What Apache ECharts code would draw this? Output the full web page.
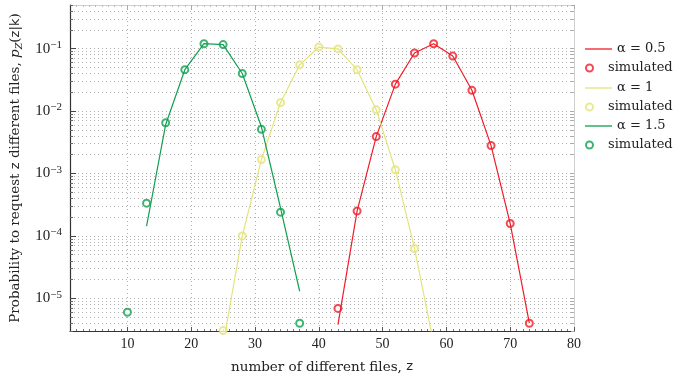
<!DOCTYPE html>
<html>
<head>
<meta charset="utf-8">
<script src="https://cdn.jsdelivr.net/npm/echarts@6/dist/echarts.min.js"></script>
<style>
  html, body { margin: 0; padding: 0; background: #fff; }
  #main { width: 682px; height: 377px; }
</style>
</head>
<body>
<div id="main"></div>
<script>
// alpha = 0.5
const zTheory05 = [43, 46, 49, 52, 55, 58, 61, 64, 67, 70, 73];
const pTheory05 = [3.8e-6, 2.5e-4, 3.9e-3, 0.027, 0.085, 0.12, 0.076, 0.0215, 2.8e-3, 1.58e-4, 4e-6];
const zSim05 = [43, 46, 49, 52, 55, 58, 61, 64, 67, 70, 73];
const pSim05 = [6.9e-6, 2.5e-4, 3.9e-3, 0.027, 0.085, 0.12, 0.076, 0.0215, 2.8e-3, 1.58e-4, 4e-6];

// alpha = 1
const zTheory1 = [25, 28, 31, 34, 37, 40, 43, 46, 49, 52, 55, 58];
const pTheory1 = [1.8e-6, 1e-4, 1.67e-3, 0.0137, 0.055, 0.106, 0.099, 0.046, 0.0105, 1.15e-3, 6.3e-5, 1.9e-6];
const zSim1 = [25, 28, 31, 34, 37, 40, 43, 46, 49, 52, 55];
const pSim1 = [3.05e-6, 1e-4, 1.67e-3, 0.0137, 0.055, 0.106, 0.099, 0.046, 0.0105, 1.15e-3, 6.3e-5];

// alpha = 1.5
const zTheory15 = [13, 16, 19, 22, 25, 28, 31, 34, 37];
const pTheory15 = [1.44e-4, 6.1e-3, 0.046, 0.12, 0.116, 0.040, 5.6e-3, 2.8e-4, 1.3e-5];
const zSim15 = [10, 13, 16, 19, 22, 25, 28, 31, 34, 37];
const pSim15 = [6e-6, 3.35e-4, 6.5e-3, 0.046, 0.12, 0.116, 0.040, 5.1e-3, 2.4e-4, 4e-6];

const xLabels = [10, 20, 30, 40, 50, 60, 70, 80];
const yLabels = [1e-5, 1e-4, 1e-3, 1e-2, 1e-1];
const yMin = 3e-6, yMax = 0.5;

const RED = '#f01c28', YELLOW = '#e4e47a', GREEN = '#10a050';
const SERIF = '"Liberation Serif", "DejaVu Serif", serif';
const WIDE = '"DejaVu Serif", serif';
const SANS = '"DejaVu Sans", sans-serif';

// 2..9 positions inside each decade, for minor ticks and dotted grid
const yMinor = [];
for (let e = -6; e <= -1; e++) {
  for (let m = 1; m <= 9; m++) {
    const v = parseFloat((m * Math.pow(10, e)).toPrecision(3));
    if (v >= yMin && v <= yMax) yMinor.push(v);
  }
}

const pairs = (xs, ys) => xs.map((x, i) => [x, ys[i]]);

const chart = echarts.init(document.getElementById('main'));

const gridLine = { show: true, lineStyle: { color: '#b0b0b0', type: [1, 3], width: 1 } };

const option = {
  animation: false,
  grid: { left: 70, right: 108, top: 5, bottom: 46, containLabel: false, outerBoundsMode: 'none' },
  xAxis: [
    {
      type: 'value', min: 1, max: 80, splitNumber: 8,
      name: '{a|number of different files, }{z|z}',
      nameLocation: 'middle', nameGap: 29,
      nameTextStyle: {
        rich: {
          a: { fontFamily: WIDE, fontSize: 13.5, color: '#222' },
          z: { fontFamily: SANS, fontSize: 13, color: '#222' }
        }
      },
      axisLine: { lineStyle: { color: '#333', width: 1.2 } },
      axisTick: { inside: true, length: 4, customValues: xLabels, lineStyle: { color: '#555' } },
      minorTick: { show: true, splitNumber: 10, length: 2, lineStyle: { color: '#777' } },
      axisLabel: { customValues: xLabels, fontFamily: SERIF, fontSize: 14, color: '#222', margin: 6 },
      splitLine: gridLine
    },
    {
      type: 'value', min: 1, max: 80, splitNumber: 8, position: 'top',
      axisLine: { lineStyle: { color: '#d0d0d0' } },
      axisTick: { inside: true, length: 4, customValues: xLabels, lineStyle: { color: '#aaa' } },
      minorTick: { show: true, splitNumber: 10, length: 2, lineStyle: { color: '#bbb' } },
      axisLabel: { show: false },
      splitLine: { show: false }
    }
  ],
  yAxis: [
    {
      type: 'log', logBase: 10, min: yMin, max: yMax,
      name: '{a|Probability to request }{z|z}{a| different files, }{i|p}{s|Z}{a|(}{z|z}{a||}{z|k}{a|)}',
      nameLocation: 'middle', nameGap: 37,
      nameTextStyle: {
        rich: {
          a: { fontFamily: WIDE, fontSize: 13.5, color: '#222', lineHeight: 18 },
          z: { fontFamily: SANS, fontSize: 13, color: '#222', lineHeight: 18 },
          i: { fontFamily: WIDE, fontStyle: 'italic', fontSize: 13.5, color: '#222', lineHeight: 18 },
          s: { fontFamily: WIDE, fontStyle: 'italic', fontSize: 9.5, color: '#222', lineHeight: 10, verticalAlign: 'bottom' }
        }
      },
      axisLine: { lineStyle: { color: '#333', width: 1.2 } },
      axisTick: { inside: true, length: 3, customValues: yMinor, lineStyle: { color: '#666' } },
      axisLabel: {
        customValues: yLabels, margin: 8,
        formatter: v => '{b|10}{e|\u2212' + Math.abs(Math.round(Math.log10(v))) + '}',
        rich: {
          b: { fontFamily: SERIF, fontSize: 15, color: '#222', lineHeight: 18 },
          e: { fontFamily: SERIF, fontSize: 11, color: '#222', lineHeight: 9, verticalAlign: 'top' }
        }
      },
      splitLine: gridLine
    },
    {
      type: 'log', logBase: 10, min: yMin, max: yMax, position: 'left',
      axisLine: { show: false },
      axisTick: { inside: true, length: 6, customValues: yLabels, lineStyle: { color: '#444' } },
      axisLabel: { show: false },
      splitLine: { show: false }
    },
    {
      type: 'log', logBase: 10, min: yMin, max: yMax, position: 'right',
      axisLine: { show: true, lineStyle: { color: '#d0d0d0' } },
      axisTick: { inside: true, length: 3, customValues: yMinor, lineStyle: { color: '#aaa' } },
      axisLabel: { show: false },
      splitLine: { show: false }
    }
  ],
  legend: [
    ['\u03b1 = 0.5', 48, false],
    ['simulated', 67, true],
    ['\u03b1 = 1', 87, false],
    ['simulated ', 106, true],
    ['\u03b1 = 1.5', 125, false],
    ['simulated  ', 144, true]
  ].map(([name, cy, sim]) => ({
    data: [name],
    left: 585, top: cy - 7, padding: 0,
    icon: sim ? 'emptyCircle' : 'rect',
    itemWidth: 27, itemHeight: sim ? 7 : 1.3,
    formatter: n => n.trim(),
    textStyle: { fontFamily: WIDE, fontSize: 13, color: '#222', lineHeight: 16 }
  })),
  series: [
    { name: '\u03b1 = 0.5', type: 'line', data: pairs(zTheory05, pTheory05), symbol: 'none', clip: true,
      lineStyle: { color: RED, width: 1.2 }, itemStyle: { color: RED } },
    { name: 'simulated', type: 'scatter', data: pairs(zSim05, pSim05), symbol: 'emptyCircle', symbolSize: 7,
      itemStyle: { color: RED, borderColor: RED, borderWidth: 1.1 } },
    { name: '\u03b1 = 1', type: 'line', data: pairs(zTheory1, pTheory1), symbol: 'none', clip: true,
      lineStyle: { color: YELLOW, width: 1.2 }, itemStyle: { color: YELLOW } },
    { name: 'simulated ', type: 'scatter', data: pairs(zSim1, pSim1), symbol: 'emptyCircle', symbolSize: 7,
      itemStyle: { color: YELLOW, borderColor: YELLOW, borderWidth: 1.1 } },
    { name: '\u03b1 = 1.5', type: 'line', data: pairs(zTheory15, pTheory15), symbol: 'none', clip: true,
      lineStyle: { color: GREEN, width: 1.2 }, itemStyle: { color: GREEN } },
    { name: 'simulated  ', type: 'scatter', data: pairs(zSim15, pSim15), symbol: 'emptyCircle', symbolSize: 7,
      itemStyle: { color: GREEN, borderColor: GREEN, borderWidth: 1.1 } }
  ]
};

chart.setOption(option);
</script>
</body>
</html>
